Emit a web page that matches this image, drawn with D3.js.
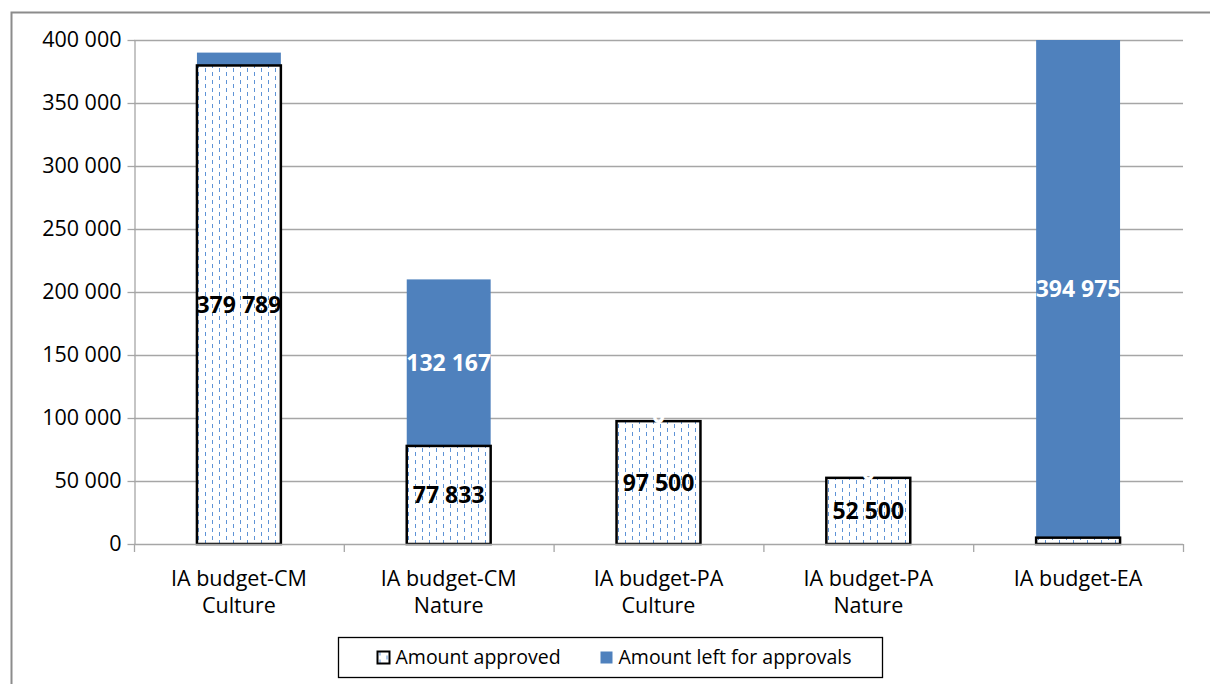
<!DOCTYPE html>
<html>
<head>
<meta charset="utf-8">
<script src="https://cdn.jsdelivr.net/npm/d3@7"></script>
<style>
  body { margin: 0; background: #fff; }
  svg { display: block; font-family: "Open Sans", sans-serif; }
</style>
</head>
<body>
<div id="chart"></div>
<script>
// Chart data
const categories = [
  ["IA budget-CM", "Culture"],
  ["IA budget-CM", "Nature"],
  ["IA budget-PA", "Culture"],
  ["IA budget-PA", "Nature"],
  ["IA budget-EA"],
];
const approved = [379789, 77833, 97500, 52500, 5025];
const leftForApprovals = [10211, 132167, 0, 0, 394975];
// which segment labels are shown (Excel hid the tiny ones)
const showApproved = [true, true, true, true, false];
const showLeft = [false, true, true, true, true];
const yTicks = [0, 50000, 100000, 150000, 200000, 250000, 300000, 350000, 400000];
const seriesNames = ["Amount approved", "Amount left for approvals"];

const width = 1210, height = 684;
const margin = { top: 40, right: 26, bottom: 140, left: 134 };
const blue = "#4f81bd";

const fmt = (v) => d3.format(",")(v).replace(/,/g, " ");

const svg = d3.select("#chart").append("svg")
  .attr("width", width)
  .attr("height", height);

// pattern for "Amount approved" (dashed vertical)
const defs = svg.append("defs");
const pat = defs.append("pattern")
  .attr("id", "dashes")
  .attr("patternUnits", "userSpaceOnUse")
  .attr("width", 14)
  .attr("height", 8);
pat.append("rect").attr("width", 14).attr("height", 8).attr("fill", "#fff");
pat.append("rect").attr("x", 2).attr("y", 0).attr("width", 1).attr("height", 4)
  .attr("fill", "#5e93d6");
pat.append("rect").attr("x", 9).attr("y", 4).attr("width", 1).attr("height", 4)
  .attr("fill", "#5e93d6");

// outer chart frame
svg.append("rect")
  .attr("x", 11.5).attr("y", 12.5)
  .attr("width", width + 20).attr("height", height + 20)
  .attr("fill", "none")
  .attr("stroke", "#8c8c8c")
  .attr("stroke-width", 2);

const x = d3.scaleBand()
  .domain(d3.range(categories.length))
  .range([margin.left, width - margin.right - 1])
  .paddingInner(0.6)
  .paddingOuter(0.3);

const xOuter = d3.scaleBand()
  .domain(d3.range(categories.length))
  .range([margin.left, width - margin.right - 1]);

const y = d3.scaleLinear()
  .domain([0, 400000])
  .range([height - margin.bottom, margin.top]);

// gridlines
svg.append("g")
  .selectAll("line")
  .data(yTicks.filter((t) => t > 0))
  .join("line")
  .attr("x1", margin.left)
  .attr("x2", width - margin.right - 1)
  .attr("y1", (d) => Math.round(y(d)) + 0.5)
  .attr("y2", (d) => Math.round(y(d)) + 0.5)
  .attr("stroke", "#a6a6a6")
  .attr("stroke-width", 1.3);

// y axis
const yAxis = svg.append("g")
  .attr("transform", `translate(${margin.left + 0.5},0)`)
  .call(d3.axisLeft(y).tickValues(yTicks).tickFormat(fmt).tickSize(7).tickSizeOuter(0).tickPadding(6));
yAxis.select(".domain").attr("stroke", "#a6a6a6").attr("stroke-width", 1.3);
yAxis.selectAll(".tick line").attr("stroke", "#a6a6a6").attr("stroke-width", 1.3);
yAxis.selectAll(".tick text")
  .attr("font-size", 21.5)
  .attr("font-family", "Open Sans")
  .attr("fill", "#000");

// bars
const stackData = categories.map((c, i) => ({ i, a: approved[i], l: leftForApprovals[i] }));
const barG = svg.append("g");

barG.selectAll("rect.left")
  .data(stackData)
  .join("rect")
  .attr("class", "left")
  .attr("x", (d) => x(d.i))
  .attr("width", x.bandwidth())
  .attr("y", (d) => y(d.a + d.l))
  .attr("height", (d) => y(d.a) - y(d.a + d.l))
  .attr("fill", blue);

barG.selectAll("rect.approved")
  .data(stackData)
  .join("rect")
  .attr("class", "approved")
  .attr("x", (d) => x(d.i))
  .attr("width", x.bandwidth())
  .attr("y", (d) => y(d.a))
  .attr("height", (d) => y(0) - y(d.a))
  .attr("fill", "url(#dashes)")
  .attr("stroke", "#000")
  .attr("stroke-width", 2.5);

// x axis
const xAxisY = y(0);
svg.append("line")
  .attr("x1", margin.left).attr("x2", width - margin.right - 1)
  .attr("y1", xAxisY + 0.5).attr("y2", xAxisY + 0.5)
  .attr("stroke", "#a6a6a6").attr("stroke-width", 1.3);
svg.append("g")
  .selectAll("line")
  .data(d3.range(categories.length + 1))
  .join("line")
  .attr("x1", (d) => (d < categories.length ? xOuter(d) : width - margin.right - 1) + 0.5)
  .attr("x2", (d) => (d < categories.length ? xOuter(d) : width - margin.right - 1) + 0.5)
  .attr("y1", xAxisY)
  .attr("y2", xAxisY + 8)
  .attr("stroke", "#a6a6a6").attr("stroke-width", 1.3);

// category labels
const catG = svg.append("g")
  .selectAll("text")
  .data(categories)
  .join("text")
  .attr("x", (d, i) => x(i) + x.bandwidth() / 2)
  .attr("y", xAxisY + 42)
  .attr("text-anchor", "middle")
  .attr("font-size", 21.5)
  .attr("fill", "#000");
catG.selectAll("tspan")
  .data((d) => d)
  .join("tspan")
  .attr("x", function () { return d3.select(this.parentNode).attr("x"); })
  .attr("dy", (d, j) => (j === 0 ? 0 : 27))
  .text((d) => d);

// data labels
const labG = svg.append("g")
  .attr("font-size", 23)
  .attr("font-weight", "bold")
  .attr("text-anchor", "middle");

labG.selectAll("text.al")
  .data(stackData.filter((d) => showApproved[d.i]))
  .join("text")
  .attr("x", (d) => x(d.i) + x.bandwidth() / 2)
  .attr("y", (d) => y(d.a / 2))
  .attr("dy", "0.35em")
  .attr("fill", "#000")
  .text((d) => fmt(d.a));

labG.selectAll("text.ll")
  .data(stackData.filter((d) => showLeft[d.i]))
  .join("text")
  .attr("x", (d) => x(d.i) + x.bandwidth() / 2)
  .attr("y", (d) => y(d.a + d.l / 2))
  .attr("dy", (d) => (d.l === 0 ? "0.1em" : "0.35em"))
  .attr("fill", "#fff")
  .text((d) => fmt(d.l));

// legend
const legend = svg.append("g").attr("transform", "translate(338.5,637.5)");
legend.append("rect")
  .attr("width", 544).attr("height", 40)
  .attr("fill", "#fff").attr("stroke", "#000").attr("stroke-width", 1.3);

const legItems = legend.selectAll("g")
  .data(seriesNames)
  .join("g")
  .attr("transform", (d, i) => `translate(${i === 0 ? 39 : 262},14)`);
legItems.append("rect")
  .attr("width", 12).attr("height", 12)
  .attr("fill", (d, i) => (i === 0 ? "url(#dashes)" : blue))
  .attr("stroke", (d, i) => (i === 0 ? "#000" : "none"))
  .attr("stroke-width", 2);
legItems.append("text")
  .attr("x", 18).attr("y", 6)
  .attr("dy", "0.35em")
  .attr("font-size", 19.5)
  .attr("fill", "#000")
  .text((d) => d);
</script>
</body>
</html>
